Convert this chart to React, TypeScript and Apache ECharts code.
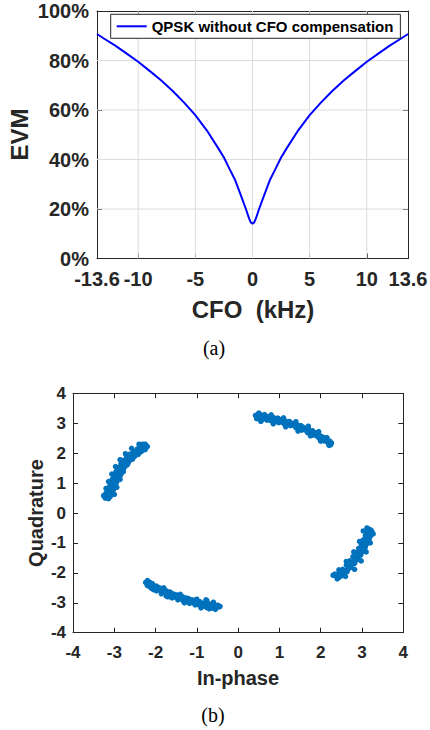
import React, { useEffect, useRef } from "react";
import * as echarts from "echarts";

// ---------- Data: (a) EVM vs CFO ----------
const cfoKHz = [-13.6, -13, -12, -11, -10, -9, -8, -7, -6, -5, -4, -3, -2.5, -2, -1.5, -1, -0.6, -0.3, -0.15, 0, 0.15, 0.3, 0.6, 1, 1.5, 2, 2.5, 3, 4, 5, 6, 7, 8, 9, 10, 11, 12, 13, 13.6];
const evmPercent = [90.7, 88.9, 86.0, 82.8, 79.5, 75.8, 72.0, 67.8, 63.1, 57.9, 51.8, 44.6, 40.8, 36.1, 31.5, 25.3, 20.3, 16.2, 14.6, 14.1, 14.6, 16.2, 20.3, 25.3, 31.5, 36.1, 40.8, 44.6, 51.8, 57.9, 63.1, 67.8, 72.0, 75.8, 79.5, 82.8, 86.0, 88.9, 90.7];
const cfoTickLabels = [-13.6, -10, -5, 0, 5, 10, 13.6];
const cfoGridLines = [-10, -5, 0, 5, 10];
const evmGridLines = [20, 40, 60, 80];
const cfoRange = [-13.6, 13.6];
const evmRange = [0, 100];
const seriesNameA = "QPSK without CFO compensation";

// ---------- Data: (b) constellation (In-phase, Quadrature) ----------
const clusterUpperLeft = [
  [-3.22, 0.5], [-3.14, 0.48], [-3.18, 0.58], [-3.1, 0.55], [-3.2, 0.66], [-3.12, 0.64], [-3.06, 0.7],
  [-3.16, 0.76], [-3.08, 0.8], [-3.02, 0.78], [-3.12, 0.88], [-3.04, 0.92], [-2.98, 0.9],
  [-3.09, 1.0], [-3.0, 1.02], [-2.94, 1.05], [-3.05, 1.12], [-2.97, 1.15], [-2.9, 1.14],
  [-3.0, 1.26], [-2.92, 1.28], [-2.86, 1.24], [-2.96, 1.38], [-2.88, 1.4], [-2.82, 1.36],
  [-2.9, 1.52], [-2.83, 1.54], [-2.77, 1.5], [-2.84, 1.64], [-2.77, 1.66], [-2.71, 1.6],
  [-2.78, 1.76], [-2.7, 1.77], [-2.65, 1.72], [-2.7, 1.86], [-2.62, 1.87], [-2.57, 1.82],
  [-2.62, 1.97], [-2.54, 1.97], [-2.49, 1.92], [-2.53, 2.06], [-2.46, 2.06], [-2.41, 2.0],
  [-2.44, 2.14], [-2.37, 2.14], [-2.33, 2.09], [-2.36, 2.21], [-2.3, 2.2], [-2.26, 2.16],
  [-2.28, 2.28], [-2.23, 2.25], [-2.31, 2.3],
  [-3.17, 0.53], [-3.09, 0.6], [-3.14, 0.7], [-3.05, 0.74], [-3.1, 0.82], [-3.0, 0.85], [-3.07, 0.95], [-2.96, 0.98],
  [-3.03, 1.07], [-2.93, 1.1], [-2.98, 1.2], [-2.88, 1.2], [-2.94, 1.32], [-2.84, 1.3], [-2.86, 1.45], [-2.79, 1.44],
  [-2.8, 1.58], [-2.74, 1.56], [-2.74, 1.7], [-2.67, 1.67], [-2.66, 1.8], [-2.6, 1.78], [-2.58, 1.91], [-2.52, 1.88],
  [-2.5, 2.01], [-2.44, 1.97], [-2.41, 2.1], [-2.35, 2.05], [-2.33, 2.17], [-2.27, 2.12], [-2.25, 2.3], [-2.34, 2.25],
  [-3.26, 0.58], [-3.2, 0.82], [-3.14, 1.05], [-3.06, 1.3], [-2.97, 1.55], [-2.86, 1.78], [-2.73, 1.98], [-2.58, 2.16], [-2.4, 2.3],
  [-3.0, 0.62], [-2.94, 0.86], [-2.86, 1.12], [-2.78, 1.38], [-2.68, 1.62], [-2.56, 1.8], [-2.42, 1.96], [-2.25, 2.12], [-2.2, 2.22],
];
const clusterTop = [
  [0.42, 3.26], [0.45, 3.15], [0.5, 3.22], [0.55, 3.28], [0.58, 3.12], [0.62, 3.2], [0.68, 3.24], [0.7, 3.1],
  [0.76, 3.18], [0.82, 3.22], [0.84, 3.06], [0.9, 3.14], [0.96, 3.17], [0.98, 3.02], [1.04, 3.1], [1.1, 3.12],
  [1.12, 2.97], [1.18, 3.04], [1.24, 3.06], [1.26, 2.92], [1.32, 2.98], [1.38, 3.0], [1.4, 2.85], [1.46, 2.91],
  [1.52, 2.92], [1.54, 2.77], [1.6, 2.83], [1.66, 2.84], [1.68, 2.69], [1.74, 2.74], [1.8, 2.75], [1.82, 2.6],
  [1.88, 2.64], [1.94, 2.64], [1.96, 2.5], [2.02, 2.54], [2.07, 2.53], [2.08, 2.41], [2.14, 2.44], [2.18, 2.42],
  [2.2, 2.32], [2.26, 2.34], [2.24, 2.28],
  [0.47, 3.21], [0.53, 3.14], [0.6, 3.25], [0.66, 3.15], [0.73, 3.21], [0.79, 3.09], [0.87, 3.18], [0.93, 3.07],
  [1.0, 3.13], [1.07, 3.03], [1.14, 3.08], [1.2, 2.98], [1.28, 3.01], [1.35, 2.92], [1.42, 2.95], [1.49, 2.84],
  [1.57, 2.87], [1.63, 2.77], [1.71, 2.79], [1.77, 2.68], [1.85, 2.69], [1.91, 2.57], [1.99, 2.58], [2.04, 2.47],
  [2.11, 2.48], [2.16, 2.37], [2.22, 2.4], [0.48, 3.3], [0.64, 3.29],
  [0.5, 3.34], [0.8, 3.28], [1.1, 3.18], [1.4, 3.05], [1.7, 2.9], [1.95, 2.72], [2.15, 2.52],
  [0.55, 3.06], [0.85, 2.98], [1.15, 2.88], [1.45, 2.74], [1.75, 2.58], [2.0, 2.4], [2.2, 2.26],
];
const clusterRight = [
  [3.12, -0.5], [3.2, -0.56], [3.1, -0.62], [3.18, -0.68], [3.24, -0.62], [3.08, -0.76], [3.16, -0.8], [3.2, -0.74],
  [3.03, -0.9], [3.12, -0.94], [3.17, -0.88], [2.98, -1.04], [3.07, -1.08], [3.12, -1.02], [2.92, -1.18], [3.01, -1.22],
  [3.07, -1.16], [2.86, -1.32], [2.95, -1.36], [3.0, -1.3], [2.78, -1.46], [2.87, -1.5], [2.93, -1.44], [2.7, -1.6],
  [2.79, -1.64], [2.85, -1.58], [2.62, -1.74], [2.71, -1.78], [2.76, -1.72], [2.53, -1.88], [2.62, -1.92], [2.67, -1.86],
  [2.44, -2.0], [2.53, -2.04], [2.58, -1.98], [2.36, -2.1], [2.45, -2.14], [2.5, -2.1], [2.4, -2.2], [2.34, -2.04],
  [3.15, -0.53], [3.22, -0.58], [3.13, -0.66], [3.12, -0.72], [3.2, -0.78], [3.09, -0.84], [3.15, -0.9], [3.05, -0.96],
  [3.1, -1.0], [3.02, -1.12], [3.08, -1.12], [2.96, -1.25], [3.03, -1.26], [2.9, -1.4], [2.97, -1.4], [2.82, -1.53],
  [2.9, -1.55], [2.74, -1.67], [2.82, -1.68], [2.66, -1.8], [2.73, -1.82], [2.57, -1.94], [2.64, -1.96], [2.48, -2.06],
  [2.55, -2.06], [2.42, -2.16], [2.38, -2.07],
  [3.27, -0.7], [3.2, -1.0], [3.1, -1.3], [2.98, -1.6], [2.82, -1.88], [2.6, -2.12],
  [3.03, -0.6], [2.94, -0.95], [2.8, -1.3], [2.62, -1.62], [2.44, -1.9], [2.3, -2.08],
];
const clusterBottom = [
  [-2.24, -2.32], [-2.18, -2.28], [-2.14, -2.38], [-2.2, -2.42], [-2.08, -2.36], [-2.04, -2.46], [-2.1, -2.52], [-1.98, -2.44],
  [-1.94, -2.54], [-1.98, -2.6], [-1.86, -2.52], [-1.82, -2.62], [-1.86, -2.7], [-1.74, -2.6], [-1.7, -2.7], [-1.74, -2.78],
  [-1.62, -2.67], [-1.58, -2.76], [-1.6, -2.84], [-1.48, -2.74], [-1.44, -2.83], [-1.46, -2.9], [-1.34, -2.8], [-1.3, -2.89],
  [-1.32, -2.96], [-1.2, -2.86], [-1.16, -2.95], [-1.18, -3.02], [-1.06, -2.92], [-1.02, -3.0], [-1.04, -3.07], [-0.92, -2.97],
  [-0.88, -3.05], [-0.9, -3.12], [-0.78, -3.01], [-0.74, -3.09], [-0.76, -3.16], [-0.64, -3.05], [-0.6, -3.12], [-0.62, -3.18],
  [-0.5, -3.08], [-0.46, -3.14], [-0.76, -2.92],
  [-2.21, -2.36], [-2.13, -2.33], [-2.16, -2.45], [-2.06, -2.41], [-2.02, -2.51], [-1.92, -2.49], [-1.9, -2.58], [-1.8, -2.57],
  [-1.78, -2.66], [-1.66, -2.64], [-1.66, -2.74], [-1.54, -2.72], [-1.52, -2.81], [-1.4, -2.78], [-1.38, -2.88], [-1.26, -2.84],
  [-1.24, -2.94], [-1.12, -2.9], [-1.1, -3.0], [-0.98, -2.95], [-0.96, -3.06], [-0.84, -3.02], [-0.82, -3.11], [-0.7, -3.04],
  [-0.68, -3.14], [-0.56, -3.1], [-0.54, -3.16], [-0.44, -3.12],
  [-2.05, -2.56], [-1.7, -2.8], [-1.3, -3.0], [-0.9, -3.17], [-0.55, -3.22], [-0.7, -3.2],
  [-2.2, -2.26], [-1.8, -2.5], [-1.4, -2.72], [-1.0, -2.88], [-0.6, -2.98], [-0.78, -2.9],
];

const FONT = "'Liberation Sans', Arial, Helvetica, sans-serif";
const SERIF = "'Liberation Serif', 'Times New Roman', serif";
const AXIS_COLOR = "#262626";
const GRID_COLOR = "#dcdcdc";
const DOT_COLOR = "#0072BD";

export default function App() {
  const ref = useRef<HTMLDivElement>(null);

  useEffect(() => {
    if (!ref.current) return;
    const chart = echarts.init(ref.current, null, { renderer: "svg" });

    const boxAxis = (gridIndex: number, position: string, extra: any = {}) => ({
      gridIndex,
      position,
      type: "value",
      axisLine: { show: true, onZero: false, lineStyle: { color: AXIS_COLOR, width: 1 } },
      axisTick: { show: true, inside: true, length: 5, lineStyle: { color: AXIS_COLOR, width: 1 } },
      axisLabel: { show: false },
      splitLine: { show: false },
      ...extra,
    });

    const labelStyleA = { fontSize: 20, fontWeight: "bold", color: AXIS_COLOR, fontFamily: FONT };
    const labelStyleB = { fontSize: 17, fontWeight: "bold", color: AXIS_COLOR, fontFamily: FONT };

    const gridLineSeries = (pts: number[][], key: string) => ({
      name: key,
      type: "line",
      xAxisIndex: 0,
      yAxisIndex: 0,
      data: pts,
      symbol: "none",
      showSymbol: false,
      silent: true,
      z: 1,
      lineStyle: { color: GRID_COLOR, width: 1, opacity: 1 },
      itemStyle: { color: GRID_COLOR },
    });

    const gridSeries = [
      ...cfoGridLines.map((v) => gridLineSeries([[v, evmRange[0]], [v, evmRange[1]]], "gx" + v)),
      ...evmGridLines.map((v) => gridLineSeries([[cfoRange[0], v], [cfoRange[1], v]], "gy" + v)),
    ];

    const scatterSeries = [clusterUpperLeft, clusterTop, clusterRight, clusterBottom].map((d, i) => ({
      name: "constellation" + i,
      type: "scatter",
      xAxisIndex: 2,
      yAxisIndex: 2,
      data: d,
      symbol: "circle",
      symbolSize: 5.5,
      itemStyle: { color: DOT_COLOR, opacity: 1 },
      silent: true,
    }));

    const option: any = {
      animation: false,
      backgroundColor: "#ffffff",
      grid: [
        { left: 97, top: 11, width: 311, height: 247.5, outerBoundsMode: "none", containLabel: false },
        { left: 73, top: 393.3, width: 330.3, height: 239.4, outerBoundsMode: "none", containLabel: false },
      ],
      legend: {
        data: [{ name: seriesNameA, icon: "rect" }],
        left: 110.7,
        top: 14.3,
        padding: [4, 7, 4, 6],
        itemWidth: 30,
        itemHeight: 2,
        itemStyle: { color: "#0000ff", borderWidth: 0 },
        lineStyle: { width: 0 },
        backgroundColor: "#ffffff",
        borderColor: AXIS_COLOR,
        borderWidth: 1,
        borderRadius: 0,
        textStyle: { fontSize: 15, fontWeight: "bold", color: "#000", fontFamily: FONT, lineHeight: 16 },
        selectedMode: false,
        z: 10,
      },
      xAxis: [
        boxAxis(0, "bottom", {
          min: cfoRange[0],
          max: cfoRange[1],
          axisTick: { show: true, inside: true, length: 5, customValues: cfoTickLabels, lineStyle: { color: AXIS_COLOR, width: 1 } },
          axisLabel: { show: true, margin: 10, customValues: cfoTickLabels, ...labelStyleA },
        }),
        boxAxis(0, "top", {
          min: cfoRange[0],
          max: cfoRange[1],
          axisTick: { show: true, inside: true, length: 5, customValues: cfoTickLabels, lineStyle: { color: AXIS_COLOR, width: 1 } },
        }),
        boxAxis(1, "bottom", {
          min: -4,
          max: 4,
          interval: 1,
          axisLabel: { show: true, margin: 11, ...labelStyleB },
        }),
        boxAxis(1, "top", { min: -4, max: 4, interval: 1 }),
      ],
      yAxis: [
        boxAxis(0, "left", {
          min: evmRange[0],
          max: evmRange[1],
          interval: 20,
          axisLabel: { show: true, margin: 8, formatter: "{value}%", ...labelStyleA },
        }),
        boxAxis(0, "right", { min: evmRange[0], max: evmRange[1], interval: 20 }),
        boxAxis(1, "left", {
          min: -4,
          max: 4,
          interval: 1,
          axisLabel: { show: true, margin: 7, ...labelStyleB },
        }),
        boxAxis(1, "right", { min: -4, max: 4, interval: 1 }),
      ],
      series: [
        ...gridSeries,
        {
          name: seriesNameA,
          type: "line",
          xAxisIndex: 0,
          yAxisIndex: 0,
          data: cfoKHz.map((f, i) => [f, evmPercent[i]]),
          showSymbol: false,
          symbol: "none",
          smooth: false,
          lineStyle: { color: "#0000ff", width: 2 },
          itemStyle: { color: "#0000ff" },
          silent: true,
          z: 3,
        },
        ...scatterSeries,
      ],
      graphic: [
        {
          type: "text",
          x: 19,
          y: 134.5,
          rotation: Math.PI / 2,
          style: { text: "EVM", font: `bold 24px ${FONT}`, fill: AXIS_COLOR, align: "center", verticalAlign: "middle", textAlign: "center", textVerticalAlign: "middle" },
        },
        {
          type: "text",
          x: 253,
          y: 309.5,
          style: { text: "CFO  (kHz)", font: `bold 24px ${FONT}`, fill: AXIS_COLOR, align: "center", verticalAlign: "middle", textAlign: "center", textVerticalAlign: "middle" },
        },
        {
          type: "text",
          x: 214,
          y: 348,
          style: { text: "(a)", font: `20px ${SERIF}`, fill: "#000", align: "center", verticalAlign: "middle", textAlign: "center", textVerticalAlign: "middle" },
        },
        {
          type: "text",
          x: 36,
          y: 513,
          rotation: Math.PI / 2,
          style: { text: "Quadrature", font: `bold 20px ${FONT}`, fill: AXIS_COLOR, align: "center", verticalAlign: "middle", textAlign: "center", textVerticalAlign: "middle" },
        },
        {
          type: "text",
          x: 238,
          y: 678,
          style: { text: "In-phase", font: `bold 20px ${FONT}`, fill: AXIS_COLOR, align: "center", verticalAlign: "middle", textAlign: "center", textVerticalAlign: "middle" },
        },
        {
          type: "text",
          x: 213,
          y: 715,
          style: { text: "(b)", font: `20px ${SERIF}`, fill: "#000", align: "center", verticalAlign: "middle", textAlign: "center", textVerticalAlign: "middle" },
        },
      ],
    };

    chart.setOption(option);
    return () => chart.dispose();
  }, []);

  return (
    <div
      ref={ref}
      style={{ position: "absolute", left: 0, top: 0, width: 430, height: 730, background: "#fff" }}
    />
  );
}
